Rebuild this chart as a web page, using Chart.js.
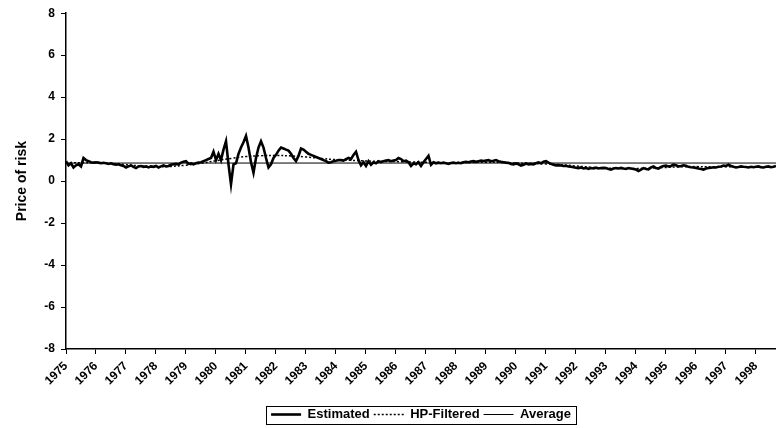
<!DOCTYPE html>
<html>
<head>
<meta charset="utf-8">
<script src="https://cdn.jsdelivr.net/npm/chart.js@4.4.1/dist/chart.umd.min.js"></script>
<style>
  html, body { margin: 0; padding: 0; background: #fff; }
  #wrap { width: 776px; height: 428px; }
</style>
</head>
<body>
<div id="wrap"><canvas id="riskChart" width="776" height="428"></canvas></div>
<script>
// monthly estimates, Jan 1975 .. Sep 1998
const startYear = 1975;
const estimated = [
  0.95, 0.75, 0.85, 0.65, 0.75, 0.80, 0.70, 1.10, 1.00, 0.95, 0.90, 0.88, // 1975
  0.90, 0.88, 0.85, 0.87, 0.85, 0.82, 0.85, 0.80, 0.78, 0.80, 0.75, 0.72, // 1976
  0.65, 0.70, 0.75, 0.68, 0.62, 0.70, 0.72, 0.68, 0.70, 0.65, 0.70, 0.68, // 1977
  0.72, 0.65, 0.70, 0.75, 0.70, 0.72, 0.78, 0.80, 0.82, 0.80, 0.88, 0.92, // 1978
  0.95, 0.82, 0.85, 0.80, 0.85, 0.88, 0.90, 0.95, 1.00, 1.05, 1.10, 1.40, // 1979
  1.00, 1.30, 1.00, 1.50, 1.90, 0.80, -0.15, 0.80, 0.85, 1.30, 1.60, 1.85, // 1980
  2.15, 1.60, 0.90, 0.40, 1.10, 1.60, 1.90, 1.60, 1.10, 0.65, 0.80, 1.10, // 1981
  1.25, 1.45, 1.60, 1.55, 1.50, 1.45, 1.30, 1.10, 0.95, 1.20, 1.55, 1.50, // 1982
  1.40, 1.30, 1.25, 1.20, 1.15, 1.10, 1.05, 1.00, 0.95, 0.88, 0.90, 0.95, // 1983
  0.97, 1.00, 1.00, 0.98, 1.05, 1.10, 1.05, 1.25, 1.40, 1.00, 0.75, 0.90, // 1984
  0.72, 0.95, 0.78, 0.90, 0.85, 0.95, 0.90, 0.95, 0.98, 1.00, 0.95, 0.98, // 1985
  1.00, 1.10, 1.05, 0.95, 0.98, 0.90, 0.72, 0.85, 0.80, 0.90, 0.72, 0.90, // 1986
  1.05, 1.20, 0.78, 0.90, 0.85, 0.88, 0.85, 0.88, 0.85, 0.82, 0.86, 0.88, // 1987
  0.85, 0.87, 0.85, 0.90, 0.92, 0.90, 0.93, 0.95, 0.92, 0.95, 0.98, 0.96, // 1988
  0.98, 1.00, 0.95, 0.97, 1.00, 0.95, 0.92, 0.90, 0.88, 0.87, 0.82, 0.80, // 1989
  0.84, 0.80, 0.74, 0.78, 0.84, 0.80, 0.82, 0.80, 0.85, 0.89, 0.85, 0.92, // 1990
  0.95, 0.88, 0.82, 0.78, 0.75, 0.76, 0.74, 0.72, 0.73, 0.70, 0.68, 0.66, // 1991
  0.64, 0.62, 0.65, 0.60, 0.63, 0.58, 0.62, 0.60, 0.64, 0.60, 0.62, 0.63, // 1992
  0.62, 0.58, 0.55, 0.60, 0.62, 0.60, 0.63, 0.60, 0.58, 0.62, 0.60, 0.58, // 1993
  0.55, 0.48, 0.55, 0.62, 0.58, 0.56, 0.65, 0.70, 0.62, 0.60, 0.68, 0.72, // 1994
  0.74, 0.70, 0.72, 0.78, 0.75, 0.70, 0.72, 0.75, 0.73, 0.68, 0.66, 0.65, // 1995
  0.63, 0.60, 0.58, 0.55, 0.60, 0.62, 0.64, 0.66, 0.65, 0.68, 0.70, 0.74, // 1996
  0.72, 0.78, 0.72, 0.68, 0.65, 0.67, 0.70, 0.68, 0.67, 0.65, 0.68, 0.66, // 1997
  0.68, 0.70, 0.66, 0.65, 0.68, 0.70, 0.66, 0.68, 0.72                    // 1998
];

// HP-filtered trend, half-yearly
const hpYears = [
  1975, 1975.5, 1976, 1976.5, 1977, 1977.5, 1978, 1978.5, 1979, 1979.5,
  1980, 1980.5, 1981, 1981.5, 1982, 1982.5, 1983, 1983.5, 1984, 1984.5,
  1985, 1985.5, 1986, 1986.5, 1987, 1987.5, 1988, 1988.5, 1989, 1989.5,
  1990, 1990.5, 1991, 1991.5, 1992, 1992.5, 1993, 1993.5, 1994, 1994.5,
  1995, 1995.5, 1996, 1996.5, 1997, 1997.5, 1998, 1998.67
];
const hpFiltered = [
  0.88, 0.87, 0.87, 0.84, 0.78, 0.72, 0.69, 0.70, 0.76, 0.85,
  0.97, 1.08, 1.17, 1.21, 1.22, 1.20, 1.15, 1.08, 1.02, 0.99,
  0.96, 0.94, 0.93, 0.91, 0.90, 0.88, 0.88, 0.89, 0.90, 0.89,
  0.86, 0.84, 0.82, 0.78, 0.72, 0.66, 0.62, 0.60, 0.60, 0.62,
  0.65, 0.68, 0.69, 0.68, 0.68, 0.68, 0.67, 0.67
];

const averageValue = 0.86;
const xMin = 1975;
const xMax = 1998.667;
const yTicks = [-8, -6, -4, -2, 0, 2, 4, 6, 8];

const estPoints = estimated.map((v, i) => ({ x: startYear + i / 12, y: v }));
const hpPoints = hpFiltered.map((v, i) => ({ x: hpYears[i], y: v }));
const avgPoints = [{ x: xMin, y: averageValue }, { x: xMax, y: averageValue }];

// box around the legend, like the spreadsheet original
const legendFrame = {
  id: 'legendFrame',
  afterDraw(chart) {
    const boxes = chart.legend && chart.legend.legendHitBoxes;
    if (!boxes || !boxes.length) return;
    let l = Infinity, r = -Infinity, t = Infinity, b = -Infinity;
    boxes.forEach(h => {
      l = Math.min(l, h.left); r = Math.max(r, h.left + h.width);
      t = Math.min(t, h.top); b = Math.max(b, h.top + h.height);
    });
    const ctx = chart.ctx;
    ctx.save();
    ctx.strokeStyle = '#000';
    ctx.lineWidth = 1;
    ctx.strokeRect(Math.round(l - 5) + 0.5, Math.round(t - 2) + 0.5, Math.round(r - l + 10), Math.round(b - t + 5));
    ctx.restore();
  }
};

const tickFont = { family: 'Liberation Sans', size: 12, weight: 'bold' };

const ctx = document.getElementById('riskChart').getContext('2d');
new Chart(ctx, {
  type: 'line',
  data: {
    datasets: [{
      label: 'Estimated',
      data: estPoints,
      borderColor: '#000',
      borderWidth: 2.6,
      pointRadius: 0,
      tension: 0
    }, {
      label: 'HP-Filtered',
      data: hpPoints,
      borderColor: '#000',
      borderWidth: 1.5,
      borderDash: [2, 2],
      pointRadius: 0,
      tension: 0.4
    }, {
      label: 'Average',
      data: avgPoints,
      borderColor: '#000',
      borderWidth: 1,
      pointRadius: 0
    }]
  },
  options: {
    responsive: false,
    animation: false,
    layout: { padding: { top: 12, bottom: -3, left: 0, right: 0 } },
    plugins: {
      tooltip: { enabled: false },
      legend: {
        position: 'bottom',
        fullSize: false,
        labels: {
          color: '#000',
          font: { family: 'Liberation Sans', size: 13, weight: 'bold' },
          usePointStyle: true,
          pointStyleWidth: 30,
          padding: 4,
          generateLabels: chart => chart.data.datasets.map((ds, i) => ({
            text: ds.label,
            datasetIndex: i,
            fillStyle: '#000',
            strokeStyle: '#000',
            fontColor: '#000',
            lineWidth: ds.borderWidth,
            lineDash: ds.borderDash || [],
            pointStyle: 'line',
            hidden: false
          }))
        }
      }
    },
    scales: {
      x: {
        type: 'linear',
        min: xMin,
        max: xMax,
        afterFit: s => { s.height = 55; },
        border: { color: '#000', width: 1.5 },
        grid: { drawOnChartArea: false, drawTicks: true, tickLength: 5, color: '#000' },
        ticks: {
          stepSize: 1,
          includeBounds: false,
          autoSkip: false,
          maxRotation: 45,
          minRotation: 45,
          padding: 5,
          color: '#000',
          font: tickFont,
          callback: v => Number.isInteger(v) ? String(v) : ''
        }
      },
      y: {
        min: -8,
        max: 8,
        afterFit: s => { s.width = 66; },
        afterBuildTicks: s => { s.ticks = yTicks.map(v => ({ value: v })); },
        border: { color: '#000', width: 1.5 },
        grid: { drawOnChartArea: false, drawTicks: true, tickLength: 5, color: '#000' },
        title: {
          display: true,
          text: 'Price of risk',
          color: '#000',
          font: { family: 'Liberation Sans', size: 14, weight: 'bold' },
          padding: { top: 14, bottom: 0 }
        },
        ticks: {
          padding: 6,
          color: '#000',
          font: tickFont,
          callback: v => String(v)
        }
      }
    }
  },
  plugins: [legendFrame]
});
</script>
</body>
</html>
